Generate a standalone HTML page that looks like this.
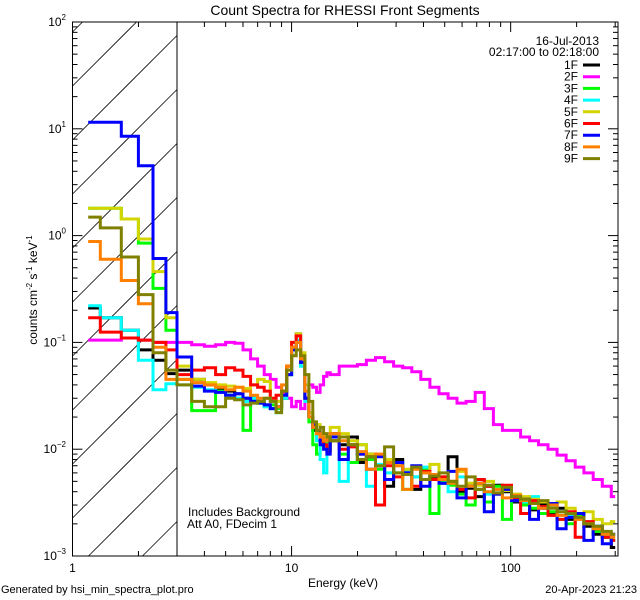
<!DOCTYPE html>
<html><head><meta charset="utf-8"><style>
html,body{margin:0;padding:0;background:#fff;width:640px;height:600px;overflow:hidden;}
svg{display:block;font-family:"Liberation Sans",sans-serif;overflow:hidden;}
</style></head><body>
<svg id="chart" width="640" height="600" viewBox="0 0 640 600" xmlns="http://www.w3.org/2000/svg">
<rect x="0" y="0" width="640" height="600" fill="#fff"/>
<text x="345" y="15" font-size="14" text-anchor="middle">Count Spectra for RHESSI Front Segments</text>
<defs><clipPath id="plotclip"><rect x="72.5" y="22" width="545.5" height="534"/></clipPath></defs>
<g id="hatch"></g>
<line x1="177" y1="22" x2="177" y2="556" stroke="#000" stroke-width="1"/>
<g id="series" clip-path="url(#plotclip)"></g>
<rect x="72.5" y="22" width="545.5" height="534" fill="none" stroke="#000" stroke-width="1"/>
<g id="axes"></g>
<g font-size="12">
<text x="599" y="45" text-anchor="end">16-Jul-2013</text>
<text x="599" y="56" text-anchor="end">02:17:00 to 02:18:00</text>
</g>
<g id="legend-entries" font-size="12"></g>
<text x="188" y="516" font-size="12">Includes Background</text>
<text x="187" y="528" font-size="12">Att A0, FDecim 1</text>
<text x="343" y="587" font-size="12" text-anchor="middle">Energy (keV)</text>
<text transform="translate(37,290) rotate(-90)" font-size="12" text-anchor="middle">counts cm<tspan font-size="8" dy="-5">-2</tspan><tspan dy="5"> s</tspan><tspan font-size="8" dy="-5">-1</tspan><tspan dy="5"> keV</tspan><tspan font-size="8" dy="-5">-1</tspan></text>
<text x="1" y="593" font-size="11">Generated by hsi_min_spectra_plot.pro</text>
<text x="637" y="593" font-size="11" text-anchor="end">20-Apr-2023 21:23</text>
</svg>
<script>
const segNames=["1F","2F","3F","4F","5F","6F","7F","8F","9F"];
const segColors=["#000000","#ff00ff","#00ff00","#00ffff","#d4d400","#ff0000","#0000ff","#ff8000","#808000"];
const lowEdges=[1.18,1.34,1.67,2.0,2.33,2.67,3.0];
const midEdges=[3.5,4,4.5,5,5.5,6,6.5,7,7.5,8,8.5,9,9.5,10,10.5,11,11.5,12,12.5,13,13.5,14,14.5,15];
const highEdges=[16.5,18.15,19.97,21.96,24.16,26.57,29.23,32.15,35.37,38.9,42.8,47.1,51.8,56.9,62.6,68.9,75.8,83.4,91.7,100.9,111,122,134,148,163,179,197,216,238,262,288,300];
const s1F=[0.21,0.17,0.13,0.085,0.068,0.051,
0.055,0.045,0.04,0.036,0.035,0.033,0.03,0.03,0.028,0.026,0.024,0.025,0.03,0.05,0.09,0.12,0.07,0.03,0.02,0.015,0.014,0.011,0.012,0.01,
0.014,0.011,0.013,0.0075,0.009,0.007,0.0045,0.008,0.006,0.0042,0.0065,0.0055,0.0048,0.0085,0.004,0.0043,0.0036,0.0045,0.0046,0.004,0.0032,0.0035,0.0027,0.003,0.0025,0.0028,0.0022,0.0024,0.0019,0.0016,0.0015,0.0012];
const s2F=[0.105,0.105,0.11,0.105,0.1,0.1,
0.1,0.095,0.092,0.095,0.1,0.098,0.085,0.07,0.06,0.05,0.045,0.038,0.033,0.03,0.025,0.028,0.024,0.03,0.04,0.038,0.034,0.04,0.048,0.052,
0.05,0.06,0.06,0.062,0.068,0.072,0.066,0.06,0.058,0.053,0.045,0.038,0.033,0.03,0.027,0.028,0.034,0.024,0.017,0.015,0.015,0.013,0.012,0.011,0.01,0.0088,0.0078,0.0068,0.006,0.0052,0.0045,0.0036];
const s3F=[1.8,1.8,1.43,0.85,0.32,0.13,
0.045,0.023,0.023,0.035,0.032,0.03,0.015,0.028,0.027,0.025,0.026,0.024,0.03,0.05,0.085,0.1,0.06,0.03,0.018,0.011,0.009,0.013,0.012,0.01,
0.012,0.009,0.0075,0.011,0.008,0.0065,0.0075,0.006,0.0042,0.0055,0.0065,0.0025,0.005,0.0046,0.0038,0.003,0.0042,0.0032,0.0045,0.0022,0.0035,0.003,0.0028,0.0025,0.0026,0.0022,0.002,0.0024,0.002,0.0017,0.0015,0.0014];
const s4F=[0.22,0.17,0.13,0.068,0.036,0.041,
0.04,0.038,0.036,0.034,0.032,0.03,0.028,0.03,0.027,0.025,0.024,0.022,0.03,0.05,0.085,0.105,0.06,0.028,0.02,0.016,0.012,0.008,0.006,0.011,
0.013,0.005,0.011,0.008,0.0045,0.0072,0.006,0.0075,0.0063,0.0055,0.0068,0.0058,0.0048,0.004,0.0055,0.0045,0.0052,0.0038,0.0042,0.0044,0.0033,0.0032,0.0036,0.0028,0.0029,0.0026,0.0024,0.0023,0.0021,0.0019,0.0016,0.0014];
const s5F=[1.8,1.8,1.43,0.93,0.46,0.17,
0.06,0.045,0.042,0.04,0.039,0.038,0.037,0.04,0.045,0.043,0.03,0.028,0.032,0.06,0.1,0.12,0.08,0.04,0.022,0.018,0.017,0.014,0.012,0.013,
0.016,0.014,0.012,0.011,0.009,0.009,0.008,0.007,0.0065,0.0068,0.006,0.0072,0.0055,0.005,0.0062,0.0048,0.0046,0.005,0.0042,0.0041,0.0038,0.0036,0.0034,0.0032,0.003,0.0032,0.0028,0.0025,0.0026,0.0022,0.002,0.0021];
const s6F=[0.17,0.125,0.11,0.105,0.1,0.085,
0.05,0.055,0.058,0.05,0.058,0.055,0.048,0.04,0.038,0.035,0.03,0.032,0.035,0.06,0.1,0.115,0.065,0.03,0.02,0.016,0.014,0.012,0.011,0.0095,
0.012,0.01,0.0105,0.009,0.0085,0.003,0.007,0.0055,0.006,0.0045,0.0062,0.0052,0.0055,0.005,0.0042,0.0035,0.0052,0.0045,0.0038,0.0046,0.0035,0.0025,0.0033,0.0029,0.0024,0.0022,0.0026,0.0015,0.0021,0.0018,0.0015,0.0014];
const s7F=[11.5,11.5,8.5,4.5,0.61,0.19,
0.073,0.039,0.035,0.034,0.032,0.033,0.03,0.028,0.027,0.026,0.024,0.025,0.032,0.05,0.085,0.1,0.065,0.03,0.02,0.017,0.015,0.011,0.01,0.009,
0.013,0.008,0.011,0.009,0.0065,0.0085,0.0052,0.0075,0.006,0.007,0.0045,0.0058,0.0048,0.0062,0.0035,0.0045,0.0048,0.0026,0.0038,0.0042,0.0033,0.0034,0.0022,0.0028,0.0031,0.0018,0.0023,0.0025,0.0014,0.0019,0.0013,0.0016];
const s8F=[0.88,0.6,0.38,0.23,0.09,0.045,
0.045,0.042,0.04,0.038,0.036,0.038,0.035,0.032,0.03,0.03,0.028,0.025,0.04,0.06,0.09,0.1,0.07,0.035,0.02,0.016,0.014,0.013,0.012,0.013,
0.014,0.012,0.011,0.0095,0.0065,0.009,0.0075,0.007,0.0042,0.0065,0.006,0.0058,0.0052,0.0048,0.0065,0.0045,0.0048,0.004,0.0042,0.0035,0.0037,0.0033,0.0031,0.0028,0.003,0.0024,0.0025,0.0022,0.002,0.0018,0.0016,0.0015];
const s9F=[1.49,1.18,0.63,0.28,0.08,0.055,
0.04,0.028,0.025,0.025,0.03,0.029,0.026,0.027,0.028,0.03,0.028,0.022,0.035,0.055,0.075,0.085,0.075,0.05,0.028,0.018,0.015,0.016,0.014,0.013,
0.012,0.013,0.011,0.008,0.0085,0.007,0.0105,0.006,0.0058,0.0068,0.0052,0.0056,0.006,0.005,0.0045,0.0055,0.0042,0.0046,0.0039,0.0044,0.0036,0.0034,0.0031,0.0033,0.0028,0.0026,0.0025,0.0023,0.002,0.0019,0.0017,0.0016];
const seriesValues=[s1F,s2F,s3F,s4F,s5F,s6F,s7F,s8F,s9F];
const yTickExps=[2,1,0,-1,-2,-3];
const xTickLabels=["1","10","100"];

const NS="http://www.w3.org/2000/svg";
const X0=72.5,X1=618,Y0=22,Y1=556,XMIN=0,XMAX=Math.log10(309),YMAX=2,YMIN=-3;
const XH=177;
const xs=e=>X0+(Math.log10(e)-XMIN)/(XMAX-XMIN)*(X1-X0);
const ys=v=>Y0+(YMAX-Math.log10(Math.max(v,5e-4)))/(YMAX-YMIN)*(Y1-Y0);
const edges=lowEdges.concat(midEdges,highEdges);
function mk(tag,attrs,parent){const el=document.createElementNS(NS,tag);for(const k in attrs)el.setAttribute(k,attrs[k]);parent.appendChild(el);return el;}

// hatch lines: y = c - (x - X0), clipped manually to hatch rectangle
const hatch=document.getElementById('hatch');
for(let c=Y0+10;c<Y1+(XH-X0);c+=54){
  let xa=X0,ya=c;
  if(ya>Y1){xa=X0+(ya-Y1);ya=Y1;}
  let xb=XH,yb=c-(XH-X0);
  if(yb<Y0){xb=X0+(c-Y0);yb=Y0;}
  if(xa>=xb)continue;
  const l=mk('line',{x1:xa,y1:ya,x2:xb,y2:yb,stroke:'#000','stroke-width':0.8},hatch);
  
  
}

const sg=document.getElementById('series');
seriesValues.forEach((vals,si)=>{
  let d='M'+xs(edges[0]).toFixed(1)+' '+ys(vals[0]).toFixed(1);
  for(let i=0;i<vals.length;i++){
    if(i>0)d+=' V'+ys(vals[i]).toFixed(1);
    d+=' H'+xs(edges[i+1]).toFixed(1);
  }
  const p=mk('path',{d:d,fill:'none',stroke:segColors[si],'stroke-width':3,'stroke-linejoin':'miter'},sg);
  
  
});

const ax=document.getElementById('axes');
for(let dec=0;dec<=2;dec++){
  for(let m=1;m<=9;m++){
    const e=m*Math.pow(10,dec);
    if(e>309)break;
    const x=xs(e),len=m===1?10:5;
    const t1=mk('line',{x1:x,y1:Y1,x2:x,y2:Y1-len,stroke:'#000','stroke-width':1},ax);
    
    
    const t2=mk('line',{x1:x,y1:Y0,x2:x,y2:Y0+len,stroke:'#000','stroke-width':1},ax);
    
    
  }
}
xTickLabels.forEach(lbl=>{
  const t=mk('text',{x:xs(parseFloat(lbl)),y:572,'font-size':12,'text-anchor':'middle'},ax);
  t.textContent=lbl;
  
  
});
for(let ex=-3;ex<2;ex++){
  for(let m=1;m<=9;m++){
    const v=m*Math.pow(10,ex),y=ys(v),len=m===1?10:5;
    const a=mk('line',{x1:X0,y1:y,x2:X0+len,y2:y,stroke:'#000','stroke-width':1},ax);
    
    
    const b=mk('line',{x1:X1,y1:y,x2:X1-len,y2:y,stroke:'#000','stroke-width':1},ax);
    
    
  }
}
yTickExps.forEach(ex=>{
  const y=ys(Math.pow(10,ex));
  const t=mk('text',{x:66,y:y+4,'font-size':12,'text-anchor':'end'},ax);
  
  
  const a=document.createElementNS(NS,'tspan');a.textContent='10';t.appendChild(a);
  const b=document.createElementNS(NS,'tspan');b.setAttribute('font-size','8');b.setAttribute('dy','-6');b.textContent=String(ex).replace('-','\u2212');t.appendChild(b);
});

const lg=document.getElementById('legend-entries');
segNames.forEach((n,i)=>{
  const y=65+i*11.7;
  const t=mk('text',{x:578,y:y+4,'text-anchor':'end'},lg);
  t.textContent=n;
  
  
  const l=mk('line',{x1:583,y1:y,x2:600,y2:y,stroke:segColors[i],'stroke-width':3},lg);
  
  
});
</script>
</body></html>
